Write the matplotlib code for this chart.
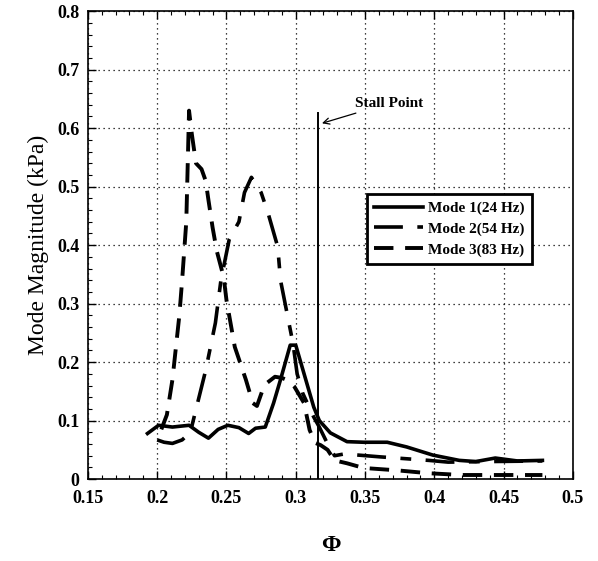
import matplotlib.pyplot as plt
from matplotlib.ticker import MultipleLocator

plt.rcParams['font.family'] = ['Liberation Serif', 'DejaVu Serif']

# Mode 1 (24 Hz)
m1_x = [0.193, 0.201, 0.211, 0.223, 0.230, 0.237, 0.244, 0.251, 0.259, 0.266,
        0.271, 0.278, 0.284, 0.289, 0.296, 0.300, 0.306, 0.313, 0.317, 0.325,
        0.337, 0.349, 0.366, 0.380, 0.399, 0.418, 0.430, 0.444, 0.460, 0.478]
m1_y = [0.078, 0.092, 0.089, 0.092, 0.080, 0.070, 0.085, 0.092, 0.088, 0.078,
        0.087, 0.089, 0.130, 0.170, 0.229, 0.229, 0.180, 0.123, 0.100, 0.079,
        0.064, 0.063, 0.063, 0.055, 0.041, 0.032, 0.030, 0.036, 0.031, 0.032]

# Mode 2 (54 Hz)
m2_x = [0.200, 0.205, 0.211, 0.218, 0.224, 0.226, 0.235, 0.242, 0.246, 0.252,
        0.259, 0.263, 0.268, 0.275, 0.280, 0.287, 0.289, 0.294, 0.298, 0.301,
        0.305, 0.313, 0.317, 0.323, 0.328, 0.335, 0.361, 0.396, 0.410, 0.440,
        0.478]
m2_y = [0.067, 0.063, 0.061, 0.067, 0.080, 0.100, 0.186, 0.267, 0.340, 0.410,
        0.440, 0.490, 0.516, 0.490, 0.455, 0.397, 0.340, 0.280, 0.232, 0.180,
        0.147, 0.106, 0.089, 0.060, 0.040, 0.043, 0.038, 0.032, 0.029, 0.030,
        0.031]

# Mode 3 (83 Hz)
m3_x = [0.203, 0.207, 0.211, 0.216, 0.218, 0.221, 0.223, 0.225, 0.228, 0.232,
        0.235, 0.237, 0.240, 0.243, 0.248, 0.250, 0.256, 0.264, 0.269, 0.272,
        0.276, 0.279, 0.285, 0.290, 0.295, 0.299, 0.306, 0.310, 0.314, 0.318,
        0.323, 0.328, 0.337, 0.349, 0.373, 0.396, 0.420, 0.450, 0.478]
m3_y = [0.085, 0.110, 0.170, 0.280, 0.340, 0.440, 0.630, 0.590, 0.540, 0.530,
        0.510, 0.477, 0.430, 0.390, 0.345, 0.306, 0.226, 0.170, 0.130, 0.125,
        0.152, 0.164, 0.175, 0.173, 0.168, 0.158, 0.130, 0.084, 0.062, 0.058,
        0.050, 0.032, 0.027, 0.019, 0.015, 0.010, 0.007, 0.007, 0.007]

stall_x = 0.316
stall_top = 0.626

fig = plt.figure(figsize=(5.98, 5.61), dpi=100)
ax = fig.add_axes([0.147, 0.146, 0.811, 0.834])

ax.plot(m1_x, m1_y, color='black', lw=2.6, label='Mode 1(24 Hz)')
ax.plot(m2_x, m2_y, color='black', lw=2.6, dashes=(8, 4, 3, 4),
        label='Mode 2(54 Hz)')
ax.plot(m3_x, m3_y, color='black', lw=2.8, dashes=(5, 3),
        label='Mode 3(83 Hz)')

ax.plot([stall_x, stall_x], [0, stall_top], color='black', lw=1.4)
ax.annotate('Stall Point', xy=(stall_x + 0.001, 0.607), xytext=(0.343, 0.643),
            fontsize=11, fontweight='bold', va='center', ha='left',
            arrowprops=dict(arrowstyle='->', color='black', lw=0.9))

ax.set_xlim(0.15, 0.5)
ax.set_ylim(0, 0.8)
ax.xaxis.set_minor_locator(MultipleLocator(0.01))
ax.yaxis.set_minor_locator(MultipleLocator(0.02))
ax.set_xticks([0.15, 0.2, 0.25, 0.3, 0.35, 0.4, 0.45, 0.5])
ax.set_xticklabels(['0.15', '0.2', '0.25', '0.3', '0.35', '0.4', '0.45', '0.5'])
ax.set_yticks([0, 0.1, 0.2, 0.3, 0.4, 0.5, 0.6, 0.7, 0.8])
ax.set_yticklabels(['0', '0.1', '0.2', '0.3', '0.4', '0.5', '0.6', '0.7', '0.8'])
ax.tick_params(which='both', direction='in', top=True, right=False)
ax.tick_params(which='major', length=6, width=1)
ax.tick_params(which='minor', length=3, width=0.8)
for lab in ax.get_xticklabels() + ax.get_yticklabels():
    lab.set_fontweight('bold')
    lab.set_fontsize(13)
ax.tick_params(axis='x', pad=8)
ax.tick_params(axis='y', pad=6)

ax.grid(True, which='major', color='black', linestyle=(0, (1, 3)), lw=0.9)
for sp in ax.spines.values():
    sp.set_linewidth(1.2)

ax.set_ylabel('Mode Magnitude (kPa)', fontsize=17, labelpad=6)
ax.set_xlabel('Φ', fontsize=17, fontweight='bold', labelpad=20)

leg = ax.legend(loc='upper left', bbox_to_anchor=(0.565, 0.62),
                prop={'weight': 'bold', 'size': 11}, fancybox=False,
                framealpha=1, edgecolor='black', handlelength=3.2,
                borderpad=0.5, labelspacing=0.45, handletextpad=0.3,
                borderaxespad=0.3)
leg.get_frame().set_linewidth(2)

fig.savefig('out.png', dpi=100)
